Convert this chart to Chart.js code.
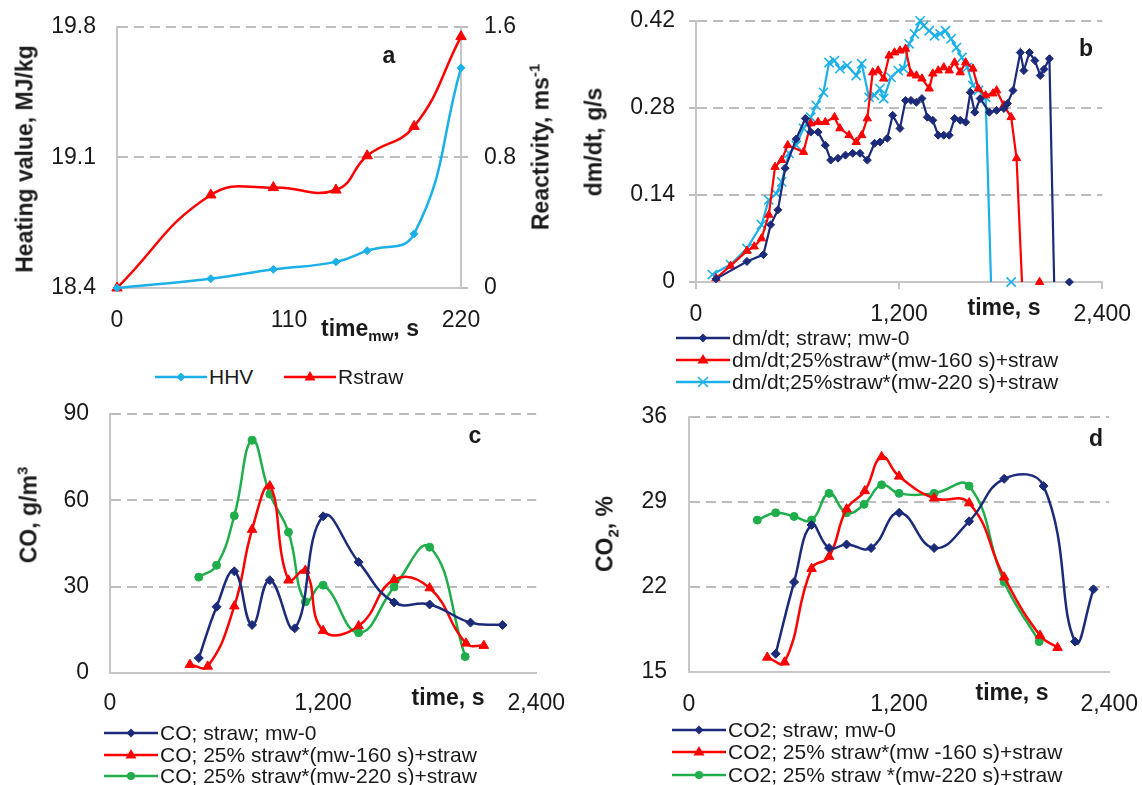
<!DOCTYPE html>
<html>
<head>
<meta charset="utf-8">
<script src="https://cdn.jsdelivr.net/npm/chart.js@4.4.1/dist/chart.umd.min.js"></script>
<style>
    html, body { margin: 0; padding: 0; background: #fff; }
    body { width: 1142px; height: 785px; position: relative; overflow: hidden; font-family: "Liberation Sans", Arial, sans-serif; color: #1a1a1a; }
    canvas { position: absolute; }
    .title { position: absolute; font-weight: bold; font-size: 23px; line-height: 1; white-space: nowrap; transform: translate(-50%, -50%); }
    .title.rot { transform: translate(-50%, -50%) rotate(-90deg); }
    .title sub, .title sup { font-size: 15px; line-height: 0; }
    .legend { position: absolute; font-size: 21px; white-space: nowrap; }
    .legend .item { display: flex; align-items: center; height: 22px; }
    .legend svg { margin-right: 2px; flex: none; }
</style>
</head>
<body>
<script>
// --- Data: panel a (microwave pretreatment) ---
const aTime = [0, 60, 100, 140, 160, 190, 220];
const aHHV = [18.40, 18.45, 18.50, 18.54, 18.60, 18.69, 19.58];
const aRstraw = [0, 0.57, 0.615, 0.60, 0.81, 0.99, 1.54];
const aXTicks = [0, 110, 220];
const aXLabels = ['0', '110', '220'];
const aYTicks = [18.4, 19.1, 19.8];
const aYLabels = ['18.4', '19.1', '19.8'];
const aY2Ticks = [0, 0.8, 1.6];
const aY2Labels = ['0', '0.8', '1.6'];

// --- Data: panel b (dm/dt) ---
const bTimeStraw = [118, 301, 398, 441, 484, 527, 592, 646, 678, 721, 764, 796, 839, 883, 926, 969, 1012, 1055, 1087, 1130, 1162, 1205, 1238, 1270, 1302, 1335, 1367, 1399, 1431, 1464, 1496, 1528, 1561, 1593, 1621, 1647, 1679, 1733, 1776, 1819, 1840, 1873, 1916, 1937, 1970, 2002, 2034, 2056, 2088, 2116, 2160, 2206];
const bStraw = [0.005, 0.033, 0.044, 0.092, 0.116, 0.183, 0.23, 0.263, 0.241, 0.241, 0.22, 0.196, 0.199, 0.204, 0.207, 0.207, 0.196, 0.223, 0.225, 0.231, 0.268, 0.247, 0.292, 0.292, 0.289, 0.295, 0.265, 0.26, 0.236, 0.236, 0.236, 0.263, 0.26, 0.257, 0.305, 0.273, 0.295, 0.273, 0.276, 0.279, 0.287, 0.308, 0.369, 0.34, 0.369, 0.356, 0.332, 0.342, 0.359, 0, null, 0];
const bTime160 = [118, 204, 301, 344, 387, 430, 467, 506, 542, 635, 678, 721, 764, 818, 850, 904, 947, 979, 1012, 1044, 1076, 1109, 1141, 1173, 1205, 1238, 1270, 1302, 1335, 1378, 1399, 1431, 1464, 1496, 1528, 1561, 1593, 1636, 1668, 1711, 1754, 1776, 1819, 1862, 1894, 1926, 1980, 2030];
const b160 = [0.006, 0.026, 0.05, 0.057, 0.07, 0.108, 0.185, 0.196, 0.22, 0.209, 0.255, 0.257, 0.257, 0.265, 0.247, 0.236, 0.225, 0.236, 0.263, 0.337, 0.34, 0.327, 0.364, 0.369, 0.372, 0.375, 0.335, 0.332, 0.327, 0.311, 0.335, 0.34, 0.345, 0.34, 0.353, 0.337, 0.353, 0.343, 0.311, 0.3, 0.303, 0.308, 0.284, 0.265, 0.199, 0, null, 0];
const bTime220 = [97, 204, 301, 387, 430, 474, 506, 549, 592, 635, 678, 710, 753, 786, 818, 850, 893, 947, 979, 1022, 1055, 1087, 1109, 1152, 1195, 1227, 1259, 1291, 1324, 1345, 1378, 1410, 1442, 1474, 1507, 1539, 1571, 1603, 1636, 1668, 1711, 1743, 1800, 1862];
const b220 = [0.012, 0.028, 0.054, 0.092, 0.132, 0.142, 0.161, 0.207, 0.22, 0.247, 0.265, 0.284, 0.305, 0.353, 0.356, 0.343, 0.348, 0.332, 0.351, 0.297, 0.3, 0.311, 0.295, 0.329, 0.34, 0.343, 0.383, 0.399, 0.42, 0.412, 0.404, 0.396, 0.399, 0.404, 0.391, 0.377, 0.361, 0.345, 0.316, 0.308, 0.297, 0, null, 0];
const bXTicks = [0, 1200, 2400];
const bXLabels = ['0', '1,200', '2,400'];
const bYTicks = [0, 0.14, 0.28, 0.42];
const bYLabels = ['0', '0.14', '0.28', '0.42'];

// --- Data: panel c (CO) ---
const cTimeStraw = [500, 600, 700, 800, 900, 1040, 1200, 1400, 1600, 1800, 2030, 2210];
const cStraw = [5.2, 23.0, 35.3, 16.7, 32.2, 15.5, 54.4, 38.5, 24.5, 23.8, 17.5, 16.7];
const cTime160 = [450, 550, 700, 800, 900, 1005, 1100, 1200, 1400, 1600, 1800, 2005, 2105];
const c160 = [2.9, 2.3, 23.2, 49.8, 64.9, 32.2, 35.6, 14.7, 16.3, 32.4, 29.5, 10.3, 9.5];
const cTime220 = [500, 600, 700, 800, 900, 1005, 1100, 1200, 1400, 1600, 1800, 2000];
const c220 = [33.3, 37.4, 54.6, 80.8, 62.1, 48.9, 24.7, 30.5, 14.0, 29.9, 43.7, 5.7];
const cXTicks = [0, 1200, 2400];
const cXLabels = ['0', '1,200', '2,400'];
const cYTicks = [0, 30, 60, 90];
const cYLabels = ['0', '30', '60', '90'];

// --- Data: panel d (CO2) ---
const dTimeStraw = [495, 600, 700, 800, 900, 1040, 1200, 1400, 1600, 1800, 2025, 2205, 2310];
const dStraw = [16.5, 22.4, 27.1, 25.2, 25.5, 25.2, 28.1, 25.2, 27.4, 30.9, 30.3, 17.5, 21.8];
const dTime160 = [447, 546, 700, 800, 900, 1004, 1100, 1200, 1400, 1600, 1800, 2005, 2105];
const d160 = [16.2, 15.8, 23.5, 24.5, 28.4, 29.9, 32.7, 31.1, 29.3, 28.9, 22.8, 18.0, 17.0];
const dTime220 = [390, 495, 600, 700, 800, 900, 1000, 1100, 1200, 1400, 1600, 1800, 2000];
const d220 = [27.5, 28.1, 27.8, 27.5, 29.7, 28.1, 28.8, 30.4, 29.7, 29.7, 30.3, 22.4, 17.5];
const dXTicks = [0, 1200, 2400];
const dXLabels = ['0', '1,200', '2,400'];
const dYTicks = [15, 22, 29, 36];
const dYLabels = ['15', '22', '29', '36'];

// --- Styles ---
const NAVY = '#1c2a7a';
const RED = '#ff0000';
const CYAN = '#1cb0e8';
const GREEN = '#1fae4b';
const GRID_COLOR = '#bdbdbd';
const AXIS_COLOR = '#c6c6c6';
const TICK_COLOR = '#1a1a1a';
const TICK_FONT = { family: '"Liberation Sans", Arial, sans-serif', size: 23 };

Chart.defaults.animation = false;
Chart.defaults.events = [];

// --- Helpers ---

function series(label, xs, ys, color, shape, radius, tension, width) {
    return {
        label: label,
        data: xs.map((x, i) => ({ x: x, y: ys[i] })),
        borderColor: color,
        backgroundColor: color,
        borderWidth: width || 2.5,
        pointStyle: shape,
        // no marker on the point where a trace drops to zero before a gap
        pointRadius: (ctx) => {
            const next = ctx.dataset.data[ctx.dataIndex + 1];
            return next && next.y === null ? 0 : radius;
        },
        pointBorderWidth: shape === 'crossRot' ? 1.6 : 1,
        pointBackgroundColor: color,
        pointBorderColor: color,
        tension: tension,
        spanGaps: false,
        clip: false,
        _shape: shape
    };
}

function xScale(min, max, vals, labels, tick, gap) {
    return {
        type: 'linear', position: 'bottom', min: min, max: max,
        afterBuildTicks: (s) => { s.ticks = vals.map(v => ({ value: v })); },
        afterFit: (s) => { s.height = 60; },
        ticks: { callback: (v, i) => labels[i], padding: gap - tick, maxRotation: 0, autoSkip: false, color: TICK_COLOR, font: TICK_FONT },
        grid: { display: tick > 0, drawOnChartArea: false, drawTicks: tick > 0, tickLength: tick, color: AXIS_COLOR, lineWidth: 2 },
        border: { display: true, color: AXIS_COLOR, width: 2 }
    };
}

function yScale(pos, min, max, vals, labels, width, tick, gap, gridOn) {
    return {
        type: 'linear', position: pos, min: min, max: max,
        afterBuildTicks: (s) => { s.ticks = vals.map(v => ({ value: v })); },
        afterFit: (s) => { s.width = width; },
        ticks: { callback: (v, i) => labels[i], padding: gap - tick, autoSkip: false, color: TICK_COLOR, font: TICK_FONT },
        grid: { display: true, drawOnChartArea: gridOn, drawTicks: tick > 0, tickLength: tick, color: GRID_COLOR, lineWidth: 2 },
        border: { display: true, color: AXIS_COLOR, width: 2, dash: [10, 6] }
    };
}

function buildChart(w, h, left, top, makeDatasets, makeScales, rightPad) {
    const canvas = document.createElement('canvas');
    canvas.width = w;
    canvas.height = h;
    canvas.style.left = left + 'px';
    canvas.style.top = top + 'px';
    document.body.appendChild(canvas);
    return new Chart(canvas, {
        type: 'line',
        data: { datasets: makeDatasets() },
        options: {
            responsive: false,
            maintainAspectRatio: false,
            devicePixelRatio: 1,
            layout: { padding: { left: 0, top: 0, right: rightPad, bottom: 0 } },
            scales: makeScales(),
            plugins: { legend: { display: false }, tooltip: { enabled: false } }
        }
    });
}

// build once, measure the plot area, then rebuild so the plot lands on `plot`
function makeChart(plot, leftW, rightPad, makeDatasets, makeScales) {
    let w = leftW + (plot.R - plot.L) + rightPad;
    let h = (plot.B - plot.T) + 80;
    let chart = buildChart(w, h, 0, 0, makeDatasets, makeScales, rightPad);
    const a = chart.chartArea;
    w += (plot.R - plot.L) - (a.right - a.left);
    h += (plot.B - plot.T) - (a.bottom - a.top);
    const left = plot.L - a.left;
    const top = plot.T - a.top;
    const canvas = chart.canvas;
    chart.destroy();
    canvas.remove();
    return buildChart(w, h, left, top, makeDatasets, makeScales, rightPad);
}

function addText(html, x, y, rotated) {
    const el = document.createElement('div');
    el.className = rotated ? 'title rot' : 'title';
    el.innerHTML = html;
    el.style.left = x + 'px';
    el.style.top = y + 'px';
    document.body.appendChild(el);
}

function symbol(color, shape, len) {
    const c = len / 2;
    let mark = '';
    if (shape === 'rectRot') mark = `<polygon points="${c},3.5 ${c + 4.5},8 ${c},12.5 ${c - 4.5},8" fill="${color}"/>`;
    if (shape === 'triangle') mark = `<polygon points="${c},2 ${c + 5.5},11.5 ${c - 5.5},11.5" fill="${color}"/>`;
    if (shape === 'circle') mark = `<circle cx="${c}" cy="8" r="4" fill="${color}"/>`;
    if (shape === 'crossRot') mark = `<path d="M${c - 5},3 L${c + 5},13 M${c + 5},3 L${c - 5},13" stroke="${color}" stroke-width="1.6"/>`;
    return `<svg width="${len}" height="16"><line x1="0" y1="8" x2="${len}" y2="8" stroke="${color}" stroke-width="2.5"/>${mark}</svg>`;
}

// legend rows are built from the chart's own datasets
function addLegend(chart, positions, len) {
    chart.data.datasets.forEach((ds, i) => {
        const el = document.createElement('div');
        el.className = 'legend';
        el.style.left = positions[i][0] + 'px';
        el.style.top = (positions[i][1] - 11) + 'px';
        el.innerHTML = `<div class="item">${symbol(ds.borderColor, ds._shape, len)}<span>${ds.label}</span></div>`;
        document.body.appendChild(el);
    });
}

// --- Panel a ---

const chartA = makeChart({ L: 117, T: 27, R: 461, B: 289 }, 100, 90, () => [
    Object.assign(series('HHV', aTime, aHHV, CYAN, 'rectRot', 4, 0.45), { yAxisID: 'y' }),
    Object.assign(series('Rstraw', aTime, aRstraw, RED, 'triangle', 6, 0.45), { yAxisID: 'y2' })
], () => ({
    x: xScale(0, 220, aXTicks, aXLabels, 0, 19),
    y: yScale('left', 18.4, 19.8, aYTicks, aYLabels, 100, 0, 21, true),
    y2: yScale('right', 0, 1.6, aY2Ticks, aY2Labels, 90, 7, 23, false)
}));

addText('Heating value, MJ/kg', 25, 159, true);
addText('Reactivity, ms<sup>-1</sup>', 541, 147, true);
addText('time<sub>mw</sub>, s', 370, 328, false);
addText('a', 389, 55, false);
addLegend(chartA, [[155, 377], [284, 377]], 52);

// --- Panel b ---

const chartB = makeChart({ L: 696, T: 21, R: 1103, B: 283 }, 100, 38, () => [
    series('dm/dt; straw; mw-0', bTimeStraw, bStraw, NAVY, 'rectRot', 4, 0, 2.2),
    series('dm/dt;25%straw*(mw-160 s)+straw', bTime160, b160, RED, 'triangle', 4.8, 0, 2.2),
    series('dm/dt;25%straw*(mw-220 s)+straw', bTime220, b220, CYAN, 'crossRot', 6.5, 0, 2.2)
], () => ({
    x: xScale(0, 2400, bXTicks, bXLabels, 7, 19),
    y: yScale('left', 0, 0.42, bYTicks, bYLabels, 100, 7, 21, true)
}));

addText('dm/dt, g/s', 594, 142, true);
addText('time, s', 1004, 307, false);
addText('b', 1086, 48, false);
addLegend(chartB, [[676, 338], [676, 360], [676, 382]], 54);

// --- Panel c ---

const chartC = makeChart({ L: 110, T: 414, R: 537, B: 674 }, 100, 40, () => [
    series('CO; straw; mw-0', cTimeStraw, cStraw, NAVY, 'rectRot', 4.5, 0.45),
    series('CO; 25% straw*(mw-160 s)+straw', cTime160, c160, RED, 'triangle', 5.5, 0.45),
    series('CO; 25% straw*(mw-220 s)+straw', cTime220, c220, GREEN, 'circle', 4, 0.45)
], () => ({
    x: xScale(0, 2400, cXTicks, cXLabels, 0, 17),
    y: yScale('left', 0, 90, cYTicks, cYLabels, 100, 0, 21, true)
}));

addText('CO, g/m<sup>3</sup>', 29, 515, true);
addText('time, s', 448, 697, false);
addText('c', 475, 435, false);
addLegend(chartC, [[104, 733], [104, 755], [104, 776]], 54);

// --- Panel d ---

const chartD = makeChart({ L: 689, T: 417, R: 1110, B: 673 }, 100, 32, () => [
    series('CO2; straw; mw-0', dTimeStraw, dStraw, NAVY, 'rectRot', 4.5, 0.45),
    series('CO2; 25% straw*(mw -160 s)+straw', dTime160, d160, RED, 'triangle', 5.5, 0.45),
    series('CO2; 25% straw *(mw-220 s)+straw', dTime220, d220, GREEN, 'circle', 4, 0.45)
], () => ({
    x: xScale(0, 2400, dXTicks, dXLabels, 0, 19),
    y: yScale('left', 15, 36, dYTicks, dYLabels, 100, 0, 22, true)
}));

addText('CO<sub>2</sub>, %', 605, 534, true);
addText('time, s', 1012, 692, false);
addText('d', 1096, 438, false);
addLegend(chartD, [[672, 730], [672, 752], [672, 775]], 54);
</script>
</body>
</html>
